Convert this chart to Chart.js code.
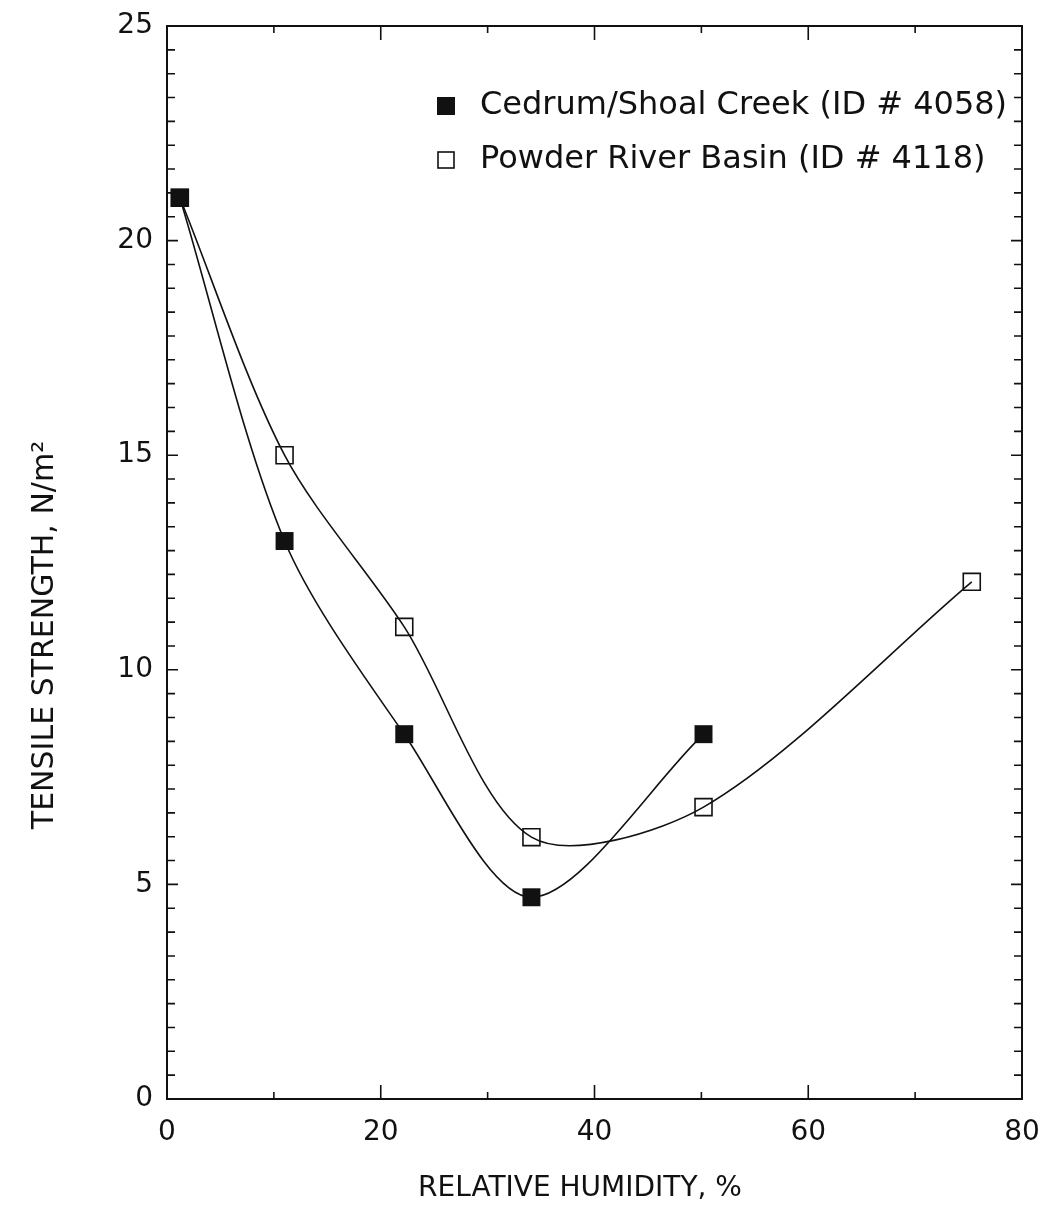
<!DOCTYPE html>
<html>
<head>
<meta charset="utf-8">
<script src="https://cdn.jsdelivr.net/npm/chart.js@4/dist/chart.umd.min.js"></script>
<style>
  html, body { margin: 0; padding: 0; background: #fff; }
  #wrap { width: 1044px; height: 1209px; }
</style>
</head>
<body>
<div id="wrap"><canvas id="chart"></canvas></div>
<script>
// values
const humidityCedrum = [1.2, 11, 22.2, 34.1, 50.2];
const tensileCedrum = [21, 13, 8.5, 4.7, 8.5];
const humidityPowder = [1.2, 11, 22.2, 34.1, 50.2, 75.3];
const tensilePowder = [21, 15, 11, 6.1, 6.8, 12.05];

const xTicks = [0, 20, 40, 60, 80];
const yTicks = [0, 5, 10, 15, 20, 25];
const seriesNames = ['Cedrum/Shoal Creek (ID # 4058)', 'Powder River Basin (ID # 4118)'];
const xTitle = 'RELATIVE HUMIDITY, %';
const yTitle = 'TENSILE STRENGTH, N/m²';

const INK = '#111';
const FONT = '"DejaVu Sans", sans-serif';

function toPoints(xs, ys) {
  return xs.map((x, i) => ({ x, y: ys[i] }));
}

// frame, inward ticks, legend and axis titles
const framePlugin = {
  id: 'frame',
  afterDatasetsDraw(chart) {
    const { ctx, chartArea: a, scales } = chart;
    const xs = scales.x, ys = scales.y;
    ctx.save();
    ctx.strokeStyle = INK;
    ctx.lineWidth = 2;
    ctx.strokeRect(a.left, a.top, a.right - a.left, a.bottom - a.top);

    ctx.beginPath();
    // x ticks every 10, longer at labelled ones
    for (let v = 10; v < 80; v += 10) {
      const px = xs.getPixelForValue(v);
      const len = v % 20 === 0 ? 14 : 7;
      ctx.moveTo(px, a.bottom); ctx.lineTo(px, a.bottom - len);
      ctx.moveTo(px, a.top); ctx.lineTo(px, a.top + len);
    }
    // y minor ticks: the original plot has 9 divisions per 5 units
    for (let major = 0; major < 25; major += 5) {
      for (let k = 0; k < 9; k++) {
        const v = major + k * 5 / 9;
        if (v === 0) continue;
        const py = ys.getPixelForValue(v);
        const len = k === 0 ? 11 : 8;
        ctx.moveTo(a.left, py); ctx.lineTo(a.left + len, py);
        ctx.moveTo(a.right, py); ctx.lineTo(a.right - len, py);
      }
    }
    ctx.lineWidth = 1.6;
    ctx.stroke();

    // legend
    const rows = [
      { y: 106, filled: true },
      { y: 160, filled: false },
    ];
    ctx.font = '32px ' + FONT;
    ctx.fillStyle = INK;
    ctx.textBaseline = 'middle';
    ctx.textAlign = 'left';
    rows.forEach((r, i) => {
      if (r.filled) {
        ctx.fillRect(437, r.y - 9, 18, 18);
      } else {
        ctx.lineWidth = 1.6;
        ctx.strokeRect(438, r.y - 8, 16, 16);
      }
      ctx.fillText(seriesNames[i], 480, r.y);
    });

    // axis titles
    ctx.font = '28px ' + FONT;
    ctx.textAlign = 'center';
    ctx.fillText(xTitle, 580, 1189);
    ctx.save();
    ctx.translate(45, 635);
    ctx.rotate(-Math.PI / 2);
    ctx.font = '30px ' + FONT;
    ctx.fillText(yTitle, 0, 0);
    ctx.restore();
    ctx.restore();
  },
};

new Chart(document.getElementById('chart'), {
  type: 'line',
  data: {
    datasets: [
      {
        label: seriesNames[0],
        data: toPoints(humidityCedrum, tensileCedrum),
        borderColor: INK,
        borderWidth: 1.6,
        backgroundColor: INK,
        pointStyle: 'rect',
        pointRadius: 12.7,
        pointBorderWidth: 0,
        pointBackgroundColor: INK,
        tension: 0.3,
        order: 1,
      },
      {
        label: seriesNames[1],
        data: toPoints(humidityPowder, tensilePowder),
        borderColor: INK,
        borderWidth: 1.6,
        pointStyle: 'rect',
        pointRadius: 12,
        pointBorderWidth: 1.6,
        pointBorderColor: INK,
        pointBackgroundColor: 'rgba(0,0,0,0)',
        tension: 0.3,
        order: 2,
      },
    ],
  },
  options: {
    responsive: true,
    maintainAspectRatio: false,
    animation: false,
    layout: { padding: { top: 26, right: 22, left: 0, bottom: 0 } },
    plugins: { legend: { display: false }, tooltip: { enabled: false } },
    scales: {
      x: {
        type: 'linear',
        min: 0,
        max: 80,
        afterBuildTicks: (s) => { s.ticks = xTicks.map((v) => ({ value: v })); },
        afterFit: (s) => { s.height = 110; s.paddingLeft = 0; s.paddingRight = 0; },
        grid: { display: false, drawTicks: false },
        border: { display: false },
        ticks: { color: INK, padding: 17, font: { family: FONT, size: 28 }, maxRotation: 0 },
      },
      y: {
        type: 'linear',
        min: 0,
        max: 25,
        afterBuildTicks: (s) => { s.ticks = yTicks.map((v) => ({ value: v })); },
        afterFit: (s) => { s.width = 167; s.paddingTop = 0; s.paddingBottom = 0; },
        grid: { display: false, drawTicks: false },
        border: { display: false },
        ticks: { color: INK, padding: 14, font: { family: FONT, size: 28 } },
      },
    },
  },
  plugins: [framePlugin],
});
</script>
</body>
</html>
